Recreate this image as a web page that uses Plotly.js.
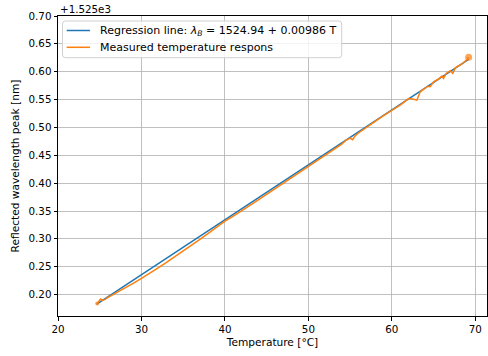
<!DOCTYPE html>
<html><head><meta charset="utf-8">
<script src="https://cdn.plot.ly/plotly-3.0.1.min.js"></script>
<style>html,body{margin:0;padding:0;background:#fff}#c{width:488px;height:356px}</style>
</head><body><div id="c"></div>
<script>
// Regression parameters (nm, °C)
const regIntercept = 1524.94;
const regSlope = 0.00986;
const regT = [24.6, 69.2];

// Measured temperature response (°C, nm)
const measT = [24.7,24.9,25.1,25.3,25.6,26.0,27.0,28.0,29.0,30.0,31.0,32.0,33.0,34.0,35.0,36.0,37.0,38.0,39.0,40.0,41.0,42.0,43.0,44.0,45.0,46.0,47.0,48.0,49.0,50.0,51.0,52.0,53.0,54.0,54.5,55.0,55.3,55.6,56.0,57.0,58.0,59.0,60.0,61.0,61.5,62.0,62.5,63.0,63.4,64.0,64.3,64.6,65.0,65.5,66.0,66.2,66.5,67.0,67.3,67.6,68.0,68.5,69.0,69.1,69.2];
const measW = [1525.184,1525.189,1525.192,1525.190,1525.191,1525.195,1525.203,1525.211,1525.220,1525.229,1525.238,1525.248,1525.258,1525.268,1525.278,1525.288,1525.299,1525.310,1525.321,1525.332,1525.341,1525.350,1525.360,1525.370,1525.380,1525.390,1525.401,1525.411,1525.421,1525.431,1525.441,1525.451,1525.461,1525.470,1525.477,1525.481,1525.478,1525.485,1525.490,1525.501,1525.511,1525.521,1525.530,1525.540,1525.546,1525.552,1525.551,1525.549,1525.564,1525.571,1525.574,1525.573,1525.582,1525.586,1525.592,1525.588,1525.597,1525.602,1525.597,1525.607,1525.611,1525.615,1525.622,1525.624,1525.626];

// Axis ticks
const xTicks = [20,30,40,50,60,70];
const yTicks = [1525.20,1525.25,1525.30,1525.35,1525.40,1525.45,1525.50,1525.55,1525.60,1525.65,1525.70];
const yTickText = ['0.20','0.25','0.30','0.35','0.40','0.45','0.50','0.55','0.60','0.65','0.70'];

// Legend labels
const legendLabels = ['Regression line: <i>λ</i><sub><i>B</i></sub> = 1524.94 + 0.00986 T', 'Measured temperature respons'];
const colors = ['#1f77b4', '#ff7f0e'];

const regW = regT.map(t => regIntercept + regSlope * t);
const endSizes = measT.map((t, i) => (i === measT.length - 1 ? 7 : (i === 0 ? 4 : 0)));

const font = {family: 'DejaVu Sans', size: 10.3, color: '#000'};
const titleFont = {family: 'DejaVu Sans', size: 10.6, color: '#000'};
const legendFont = {family: 'DejaVu Sans', size: 11, color: '#000'};
const data = [
  {x: regT, y: regW, mode: 'lines', line: {color: colors[0], width: 1.5}, name: legendLabels[0]},
  {x: measT, y: measW, mode: 'lines+markers', line: {color: colors[1], width: 1.5},
   marker: {color: colors[1], size: endSizes, line: {width: 0}}, name: legendLabels[1]}
];

// plot area in pixels: x 58..487, y 16..316
const PL = 58, PR = 487, PT = 16, PB = 316;
const px = v => (v - PL) / (PR - PL);
const py = v => (PB - v) / (PB - PT);
function roundRect(x0, y0, x1, y1, r) {
  const rx = r / (PR - PL), ry = r / (PB - PT);
  const X0 = px(x0), X1 = px(x1), Y0 = py(y1), Y1 = py(y0);
  return `M${X0 + rx},${Y0} L${X1 - rx},${Y0} Q${X1},${Y0} ${X1},${Y0 + ry} L${X1},${Y1 - ry} Q${X1},${Y1} ${X1 - rx},${Y1} L${X0 + rx},${Y1} Q${X0},${Y1} ${X0},${Y1 - ry} L${X0},${Y0 + ry} Q${X0},${Y0} ${X0 + rx},${Y0} Z`;
}
const rowsY = [30.5, 47.3];
const shapes = [
  {type: 'path', xref: 'paper', yref: 'paper', path: roundRect(62.5, 21, 341.7, 57.7, 3),
   fillcolor: 'rgba(255,255,255,0.8)', line: {color: '#d0d0d0', width: 1}, layer: 'above'}
];
const annotations = [{xref: 'paper', yref: 'paper', x: 0, y: 1, xanchor: 'left', yanchor: 'bottom',
    text: '+1.525e3', showarrow: false, font: font, yshift: -1}];
legendLabels.forEach((lab, i) => {
  shapes.push({type: 'line', xref: 'paper', yref: 'paper', x0: px(66.7), x1: px(90), y0: py(rowsY[i]), y1: py(rowsY[i]),
    line: {color: colors[i], width: 1.5}, layer: 'above'});
  annotations.push({xref: 'paper', yref: 'paper', x: px(99.3), y: py(rowsY[i]), xanchor: 'left', yanchor: 'middle',
    text: lab, showarrow: false, font: legendFont, borderpad: 0});
});

const axisCommon = {showline: true, mirror: true, linecolor: '#000', linewidth: 1,
  ticks: 'outside', ticklen: 3.5, tickwidth: 1, tickcolor: '#000',
  showgrid: true, gridcolor: '#b0b0b0', gridwidth: 0.8, zeroline: false,
  tickfont: font};
const layout = {
  width: 488, height: 356,
  margin: {l: PL, r: 488 - PR, t: PT, b: 356 - PB},
  paper_bgcolor: '#fff', plot_bgcolor: '#fff',
  font: font,
  showlegend: false,
  xaxis: Object.assign({}, axisCommon, {range: [20, 71.4], tickvals: xTicks,
    title: {text: 'Temperature [°C]', font: titleFont, standoff: 4}}),
  yaxis: Object.assign({}, axisCommon, {range: [1525.1616, 1525.70], tickvals: yTicks, ticktext: yTickText,
    title: {text: 'Reflected wavelength peak [nm]', font: titleFont, standoff: 6}}),
  shapes: shapes,
  annotations: annotations
};
Plotly.newPlot('c', data, layout, {displayModeBar: false, staticPlot: true});
</script></body></html>
